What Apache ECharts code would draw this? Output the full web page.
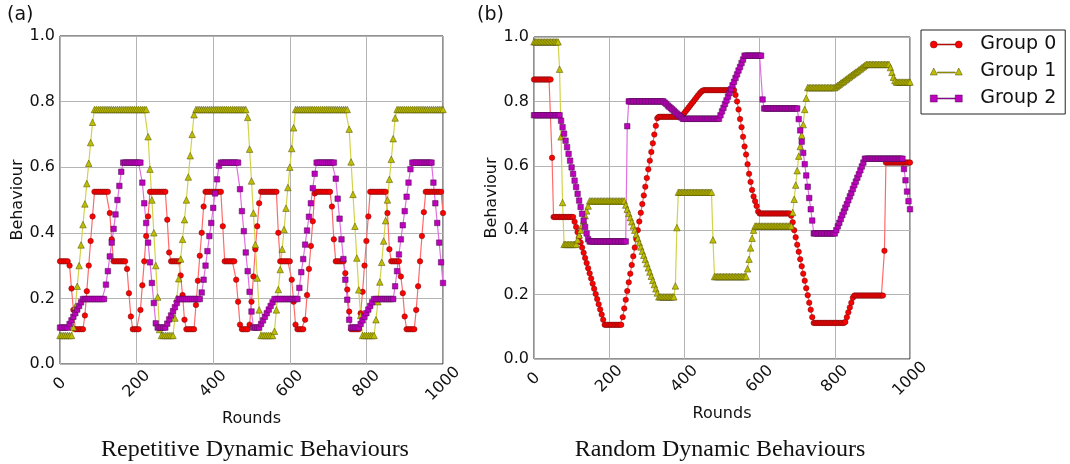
<!DOCTYPE html>
<html>
<head>
<meta charset="utf-8">
<script src="https://cdn.jsdelivr.net/npm/echarts@6/dist/echarts.min.js"></script>
<style>
  html, body { margin: 0; background: #fff; }
  #chart { width: 1070px; height: 464px; }
</style>
</head>
<body>
<div id="chart"></div>
<script>
// (a) repetitive behaviours, sampled every 5 rounds
const LEFT_ROUNDS = [
  0,5,10,15,20,25,30,35,40,45,50,55,60,65,70,75,80,85,90,95,
  100,105,110,115,120,125,130,135,140,145,150,155,160,165,170,175,180,185,190,195,
  200,205,210,215,220,225,230,235,240,245,250,255,260,265,270,275,280,285,290,295,
  300,305,310,315,320,325,330,335,340,345,350,355,360,365,370,375,380,385,390,395,
  400,405,410,415,420,425,430,435,440,445,450,455,460,465,470,475,480,485,490,495,
  500,505,510,515,520,525,530,535,540,545,550,555,560,565,570,575,580,585,590,595,
  600,605,610,615,620,625,630,635,640,645,650,655,660,665,670,675,680,685,690,695,
  700,705,710,715,720,725,730,735,740,745,750,755,760,765,770,775,780,785,790,795,
  800,805,810,815,820,825,830,835,840,845,850,855,860,865,870,875,880,885,890,895,
  900,905,910,915,920,925,930,935,940,945,950,955,960,965,970,975,980,985,990,995,
  1000
];
const LEFT_G0 = [
  .313,.313,.313,.313,.313,.30,.23,.165,.106,.106,.106,.106,.106,.148,.222,.30,.375,.45,.525,.525,
  .525,.525,.525,.525,.525,.525,.46,.38,.313,.313,.313,.313,.313,.313,.313,.29,.216,.145,.106,.106,
  .106,.106,.165,.24,.313,.39,.45,.525,.525,.525,.525,.525,.525,.525,.525,.525,.44,.34,.313,.313,
  .313,.313,.313,.27,.21,.135,.106,.106,.106,.106,.106,.18,.254,.33,.40,.48,.525,.525,.525,.525,
  .525,.525,.525,.525,.525,.42,.313,.313,.313,.313,.313,.313,.257,.19,.12,.106,.106,.106,.106,.12,
  .19,.267,.35,.42,.49,.525,.525,.525,.525,.525,.525,.525,.525,.525,.40,.313,.313,.313,.313,.313,
  .313,.257,.19,.12,.106,.106,.106,.106,.135,.21,.29,.36,.435,.52,.525,.525,.525,.525,.525,.525,
  .525,.525,.48,.38,.313,.313,.313,.313,.313,.277,.227,.16,.106,.106,.106,.106,.106,.155,.22,.30,
  .375,.45,.525,.525,.525,.525,.525,.525,.525,.525,.525,.46,.35,.313,.313,.313,.313,.313,.267,.216,
  .145,.106,.106,.106,.106,.106,.165,.237,.313,.39,.463,.525,.525,.525,.525,.525,.525,.525,.525,.525,
  .46
];
const LEFT_G1 = [
  .087,.087,.087,.087,.087,.087,.087,.112,.175,.237,.30,.363,.425,.488,.55,.612,.675,.737,.776,.776,
  .776,.776,.776,.776,.776,.776,.776,.776,.776,.776,.776,.776,.776,.776,.776,.776,.776,.776,.776,.776,
  .776,.776,.776,.776,.776,.776,.693,.594,.50,.40,.30,.204,.105,.087,.087,.087,.087,.087,.087,.087,
  .14,.20,.26,.32,.38,.44,.50,.57,.635,.70,.76,.776,.776,.776,.776,.776,.776,.776,.776,.776,
  .776,.776,.776,.776,.776,.776,.776,.776,.776,.776,.776,.776,.776,.776,.776,.776,.776,.776,.752,.655,
  .558,.46,.364,.262,.165,.087,.087,.087,.087,.087,.087,.087,.10,.165,.227,.288,.35,.41,.475,.538,
  .60,.657,.72,.776,.776,.776,.776,.776,.776,.776,.776,.776,.776,.776,.776,.776,.776,.776,.776,.776,
  .776,.776,.776,.776,.776,.776,.776,.776,.776,.776,.776,.716,.616,.517,.42,.323,.226,.148,.087,.087,
  .087,.087,.087,.087,.087,.135,.19,.25,.31,.375,.437,.50,.563,.624,.687,.75,.776,.776,.776,.776,
  .776,.776,.776,.776,.776,.776,.776,.776,.776,.776,.776,.776,.776,.776,.776,.776,.776,.776,.776,.776,
  .776
];
const LEFT_G2 = [
  .111,.111,.111,.111,.111,.122,.133,.144,.155,.166,.177,.188,.198,.198,.198,.198,.198,.198,.198,.198,
  .198,.198,.198,.198,.242,.283,.328,.37,.412,.456,.50,.543,.586,.614,.614,.614,.614,.614,.614,.614,
  .614,.614,.614,.553,.49,.43,.37,.31,.247,.186,.124,.111,.111,.111,.111,.111,.123,.136,.148,.161,
  .173,.186,.198,.198,.198,.198,.198,.198,.198,.198,.198,.198,.198,.198,.218,.257,.30,.344,.39,.43,
  .476,.52,.563,.604,.614,.614,.614,.614,.614,.614,.614,.614,.614,.614,.533,.466,.405,.34,.283,.22,
  .16,.111,.111,.111,.111,.122,.133,.144,.155,.166,.177,.188,.198,.198,.198,.198,.198,.198,.198,.198,
  .198,.198,.198,.198,.198,.232,.28,.32,.364,.407,.449,.49,.536,.58,.614,.614,.614,.614,.614,.614,
  .614,.614,.614,.614,.565,.504,.443,.38,.32,.257,.196,.135,.111,.111,.111,.111,.111,.122,.133,.144,
  .155,.166,.177,.188,.198,.198,.198,.198,.198,.198,.198,.198,.198,.198,.198,.237,.283,.334,.38,.423,
  .466,.51,.553,.594,.614,.614,.614,.614,.614,.614,.614,.614,.614,.614,.614,.553,.49,.43,.37,.31,
  .247
];

// (b) random behaviours, sampled every 4 rounds
const RIGHT_ROUNDS = [
  0,4,8,12,16,20,24,28,32,36,40,44,48,52,56,60,64,68,72,76,80,84,88,92,96,
  100,104,108,112,116,120,124,128,132,136,140,144,148,152,156,160,164,168,172,176,180,184,188,192,196,
  200,204,208,212,216,220,224,228,232,236,240,244,248,252,256,260,264,268,272,276,280,284,288,292,296,
  300,304,308,312,316,320,324,328,332,336,340,344,348,352,356,360,364,368,372,376,380,384,388,392,396,
  400,404,408,412,416,420,424,428,432,436,440,444,448,452,456,460,464,468,472,476,480,484,488,492,496,
  500,504,508,512,516,520,524,528,532,536,540,544,548,552,556,560,564,568,572,576,580,584,588,592,596,
  600,604,608,612,616,620,624,628,632,636,640,644,648,652,656,660,664,668,672,676,680,684,688,692,696,
  700,704,708,712,716,720,724,728,732,736,740,744,748,752,756,760,764,768,772,776,780,784,788,792,796,
  800,804,808,812,816,820,824,828,832,836,840,844,848,852,856,860,864,868,872,876,880,884,888,892,896,
  900,904,908,912,916,920,924,928,932,936,940,944,948,952,956,960,964,968,972,976,980,984,988,992,996,
  1000
];
const RIGHT_G0 = [
  .868,.868,.868,.868,.868,.868,.868,.868,.868,.868,.868,.868,.625,.441,.441,.441,.441,.441,.441,.441,.441,.441,.441,.441,.441,
  .441,.441,.426,.41,.394,.378,.362,.346,.33,.314,.298,.282,.266,.25,.234,.218,.202,.186,.17,.154,.138,.122,.106,.106,.106,
  .106,.106,.106,.106,.106,.106,.106,.106,.106,.13,.157,.184,.211,.238,.265,.292,.319,.346,.373,.40,.427,.454,.481,.508,.535,
  .562,.589,.616,.643,.67,.697,.724,.748,.752,.752,.752,.752,.752,.752,.752,.752,.752,.752,.752,.752,.752,.752,.752,.752,.758,
  .764,.77,.776,.782,.788,.794,.80,.806,.812,.818,.824,.829,.833,.835,.835,.835,.835,.835,.835,.835,.835,.835,.835,.835,.835,
  .835,.835,.835,.835,.835,.835,.835,.835,.835,.82,.80,.775,.745,.72,.69,.66,.635,.605,.575,.55,.525,.505,.49,.475,.458,
  .452,.452,.452,.452,.452,.452,.452,.452,.452,.452,.452,.452,.452,.452,.452,.452,.452,.452,.452,.452,.452,.445,.425,.40,.378,
  .355,.333,.31,.288,.265,.243,.22,.198,.175,.153,.13,.112,.112,.112,.112,.112,.112,.112,.112,.112,.112,.112,.112,.112,.112,
  .112,.112,.112,.112,.112,.112,.112,.115,.13,.145,.16,.175,.19,.197,.197,.197,.197,.197,.197,.197,.197,.197,.197,.197,.197,
  .197,.197,.197,.197,.197,.197,.197,.197,.336,.61,.61,.61,.61,.61,.61,.61,.61,.61,.61,.61,.61,.61,.61,.61,.61,
  .61
];
const RIGHT_G1 = [
  .985,.985,.985,.985,.985,  .985,.985,.985,.985,.985,  .985,.985,.985,.985,.985,  .985,.985,.90,.69,.486,  .356,.356,.356,.356,.356,
  .356,.356,.356,.356,.37,  .385,.40,.415,.43,.445,  .46,.475,.491,.491,.491,  .491,.491,.491,.491,.491,  .491,.491,.491,.491,.491,
  .491,.491,.491,.491,.491,  .491,.491,.491,.491,.491,  .491,.478,.465,.452,.439,  .426,.413,.40,.387,.374,  .361,.348,.335,.322,.309,
  .296,.283,.27,.257,.244,  .231,.218,.205,.193,.193,  .193,.193,.193,.193,.193,  .193,.193,.193,.193,.227,  .408,.518,.518,.518,.518,
  .518,.518,.518,.518,.518,  .518,.518,.518,.518,.518,  .518,.518,.518,.518,.518,  .518,.518,.518,.518,.37,  .256,.256,.256,.256,.256,
  .256,.256,.256,.256,.256,  .256,.256,.256,.256,.256,  .256,.256,.256,.256,.256,  .256,.256,.28,.31,.345,  .375,.40,.413,.413,.413,
  .413,.413,.413,.413,.413,  .413,.413,.413,.413,.413,  .413,.413,.413,.413,.413,  .413,.413,.413,.413,.413,  .413,.413,.455,.496,.54,
  .585,.63,.66,.695,.728,  .775,.81,.843,.843,.843,  .843,.843,.843,.843,.843,  .843,.843,.843,.843,.843,  .843,.843,.843,.843,.843,
  .843,.846,.85,.853,.857,  .86,.863,.867,.87,.874,  .877,.881,.884,.888,.891,  .894,.898,.901,.905,.908,  .912,.915,.915,.915,.915,
  .915,.915,.915,.915,.915,  .915,.915,.915,.915,.915,  .915,.915,.905,.89,.875,  .865,.86,.86,.86,.86,  .86,.86,.86,.86,.86,
  .86
];
const RIGHT_G2 = [
  .757,.757,.757,.757,.757,  .757,.757,.757,.757,.757,  .757,.757,.757,.757,.757,  .757,.757,.757,.74,.72,  .70,.678,.658,.637,.616,
  .595,.575,.554,.534,.513,  .492,.472,.451,.43,.41,  .39,.372,.365,.365,.365,  .365,.365,.365,.365,.365,  .365,.365,.365,.365,.365,
  .365,.365,.365,.365,.365,  .365,.365,.365,.365,.365,  .365,.365,.723,.80,.80,  .80,.80,.80,.80,.80,  .80,.80,.80,.80,.80,
  .80,.80,.80,.80,.80,  .80,.80,.80,.80,.80,  .80,.80,.796,.792,.787,  .783,.779,.775,.771,.766,  .762,.758,.754,.75,.746,
  .746,.746,.746,.746,.746,  .746,.746,.746,.746,.746,  .746,.746,.746,.746,.746,  .746,.746,.746,.746,.746,  .746,.746,.746,.746,.757,
  .769,.78,.792,.803,.815,  .826,.838,.85,.861,.873,  .884,.896,.907,.919,.93,  .942,.942,.942,.942,.942,  .942,.942,.942,.942,.942,
  .942,.942,.806,.778,.778,  .778,.778,.778,.778,.778,  .778,.778,.778,.778,.778,  .778,.778,.778,.778,.778,  .778,.778,.778,.778,.778,
  .778,.745,.71,.675,.64,  .605,.57,.535,.50,.465,  .43,.39,.39,.39,.39,  .39,.39,.39,.39,.39,  .39,.39,.39,.39,.39,
  .39,.40,.412,.423,.435,  .447,.458,.47,.481,.493,  .505,.516,.528,.54,.551,  .563,.574,.586,.598,.61,  .622,.622,.622,.622,.622,
  .622,.622,.622,.622,.622,  .622,.622,.622,.622,.622,  .622,.622,.622,.622,.622,  .622,.622,.622,.622,.622,  .622,.59,.555,.52,.49,
  .465
];

const NAMES = ['Group 0', 'Group 1', 'Group 2'];

const MARKERS = ['circle', 'triangle', 'rect'];
const FILL = ['#ff0000', '#bfbf00', '#bf00bf'];
const LINE = ['#ff6a6a', '#d2d24a', '#e070e0'];
const EDGE = ['#6a1010', '#4a4a00', '#4a104a'];
const ICONS = [
  'path://M0,3.5A3.5,3.5,0,1,0,7,3.5A3.5,3.5,0,1,0,0,3.5Z M7,3H25V4H7Z M25,3.5A3.5,3.5,0,1,0,32,3.5A3.5,3.5,0,1,0,25,3.5Z',
  'path://M0,7L3.5,0L7,7Z M7,4H25V5H7Z M25,7L28.5,0L32,7Z',
  'path://M0,0H7V7H0Z M7,3H25V4H7Z M25,0H32V7H25Z'
];

const FONT = 'DejaVu Sans';

const pairs = (xs, ys) => xs.map((x, i) => [x, ys[i]]);

function xAxisFor(grid) {
  return {
    gridIndex: grid, type: 'value', min: 0, max: 1000, interval: 200,
    axisLine: { show: false }, axisTick: { show: false },
    axisLabel: {
      rotate: 45, align: 'center', verticalAlign: 'middle', margin: 20,
      fontSize: 16, fontFamily: FONT, color: '#111',
      formatter: (v) => String(v)
    },
    splitLine: { show: true, lineStyle: { color: '#b4b4b4', width: 1 } },
    name: 'Rounds', nameLocation: 'middle', nameGap: 46,
    nameTextStyle: { fontSize: 16, fontFamily: FONT, color: '#111' }
  };
}
function yAxisFor(grid) {
  return {
    gridIndex: grid, type: 'value', min: 0, max: 1, interval: 0.2,
    axisLine: { show: false }, axisTick: { show: false },
    axisLabel: {
      margin: 5, fontSize: 16, fontFamily: FONT, color: '#111',
      formatter: (v) => v.toFixed(1)
    },
    splitLine: { show: true, lineStyle: { color: '#b4b4b4', width: 1 } },
    name: 'Behaviour', nameLocation: 'middle', nameGap: 34,
    nameTextStyle: { fontSize: 16, fontFamily: FONT, color: '#111' }
  };
}

function seriesFor(grid, rounds, values, k) {
  return {
    name: NAMES[k], type: 'line', xAxisIndex: grid, yAxisIndex: grid,
    data: pairs(rounds, values),
    symbol: MARKERS[k], symbolSize: k === 1 ? 6.5 : 5.5,
    showSymbol: true, silent: true, animation: false,
    lineStyle: { color: LINE[k], width: 1.2 },
    itemStyle: { color: FILL[k], borderColor: EDGE[k], borderWidth: 0.5 },
    emphasis: { disabled: true }
  };
}

const chart = echarts.init(document.getElementById('chart'), null, { renderer: 'canvas' });

chart.setOption({
  animation: false,
  backgroundColor: '#fff',
  grid: [
    { left: 60, top: 36, width: 383, height: 328, show: true, borderColor: '#222', borderWidth: 1 },
    { left: 534, top: 37, width: 376, height: 322, show: true, borderColor: '#222', borderWidth: 1 }
  ],
  xAxis: [xAxisFor(0), xAxisFor(1)],
  yAxis: [yAxisFor(0), yAxisFor(1)],
  legend: {
    data: NAMES.map((n, k) => ({ name: n, icon: ICONS[k] })),
    orient: 'vertical', left: 921, top: 30,
    backgroundColor: '#fff', borderColor: '#222', borderWidth: 1, borderRadius: 0,
    padding: [5, 9, 6, 9], itemGap: 8, itemWidth: 32, itemHeight: 7,
    itemStyle: { borderWidth: 0.5 },
    selectedMode: false,
    textStyle: { fontSize: 19, fontFamily: FONT, color: '#111', padding: [0, 0, 0, 13] }
  },
  graphic: [
    { type: 'text', left: 7, top: 6, style: { text: '(a)', fontSize: 19, fontFamily: FONT, fill: '#111' } },
    { type: 'text', left: 477, top: 6, style: { text: '(b)', fontSize: 19, fontFamily: FONT, fill: '#111' } },
    { type: 'text', x: 255, y: 450, style: { text: 'Repetitive Dynamic Behaviours', fontSize: 24, fontFamily: 'Liberation Serif', fill: '#111', align: 'center', verticalAlign: 'middle' } },
    { type: 'text', x: 720, y: 450, style: { text: 'Random Dynamic Behaviours', fontSize: 24, fontFamily: 'Liberation Serif', fill: '#111', align: 'center', verticalAlign: 'middle' } }
  ],
  series: [
    seriesFor(0, LEFT_ROUNDS, LEFT_G0, 0),
    seriesFor(0, LEFT_ROUNDS, LEFT_G1, 1),
    seriesFor(0, LEFT_ROUNDS, LEFT_G2, 2),
    seriesFor(1, RIGHT_ROUNDS, RIGHT_G0, 0),
    seriesFor(1, RIGHT_ROUNDS, RIGHT_G1, 1),
    seriesFor(1, RIGHT_ROUNDS, RIGHT_G2, 2)
  ]
});
</script>
</body>
</html>
